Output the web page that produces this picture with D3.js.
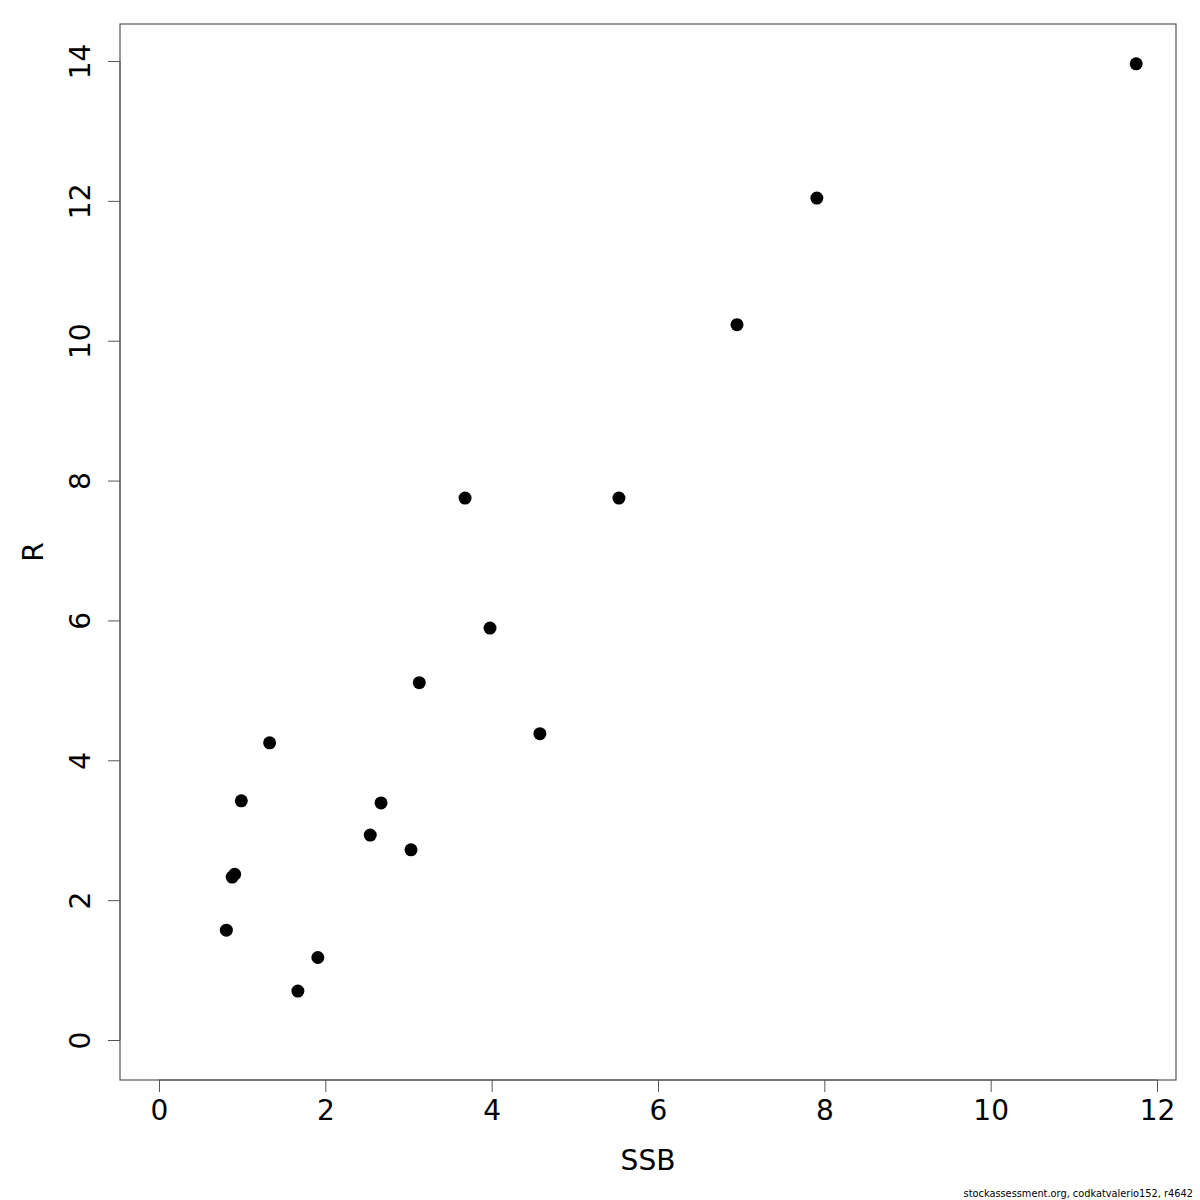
<!DOCTYPE html>
<html><head><meta charset="utf-8">
<script src="https://cdn.jsdelivr.net/npm/d3@7"></script>
<style>body{margin:0;background:#fff}svg{display:block}text{font-family:"DejaVu Sans",sans-serif}</style>
</head><body>
<script>
const ssb = [11.75, 7.91, 6.95, 5.53, 3.68, 3.98, 3.13, 4.58, 1.33, 0.99, 2.67, 2.54, 3.03, 0.91, 0.88, 0.81, 1.91, 1.67];
const rec = [13.96, 12.04, 10.23, 7.75, 7.75, 5.89, 5.11, 4.38, 4.25, 3.42, 3.39, 2.93, 2.72, 2.37, 2.33, 1.57, 1.18, 0.70];
const xTicks = [0, 2, 4, 6, 8, 10, 12];
const yTicks = [0, 2, 4, 6, 8, 10, 12, 14];
const xLabel = "SSB", yLabel = "R";
const footer = "stockassessment.org, codkatvalerio152, r4642";

const W = 1200, H = 1200;
const box = {l:120, r:1176, t:24, b:1080};
const svg = d3.select("body").append("svg").attr("width", W).attr("height", H);
const x = d3.scaleLinear().domain([0, 12]).range([159, 1157]);
const y = d3.scaleLinear().domain([0, 14]).range([1040, 61]);

svg.append("rect").attr("x", box.l).attr("y", box.t).attr("width", box.r - box.l).attr("height", box.b - box.t)
  .attr("fill", "none").attr("stroke", "#555").attr("stroke-width", 1.2);

const xa = svg.append("g").attr("transform", `translate(0,${box.b})`)
  .call(d3.axisBottom(x).tickValues(xTicks).tickSize(12).tickPadding(8).tickFormat(d3.format("d")));
xa.select(".domain").attr("d", `M${x(0)},0H${x(12)}`).attr("stroke", "#555");
xa.selectAll(".tick line").attr("stroke", "#555");
xa.selectAll("text").attr("font-size", 28).attr("fill", "#000").attr("font-family", "DejaVu Sans");

const ya = svg.append("g").attr("transform", `translate(${box.l},0)`)
  .call(d3.axisLeft(y).tickValues(yTicks).tickSize(12).tickFormat(d3.format("d")));
ya.select(".domain").attr("d", `M0,${y(0)}V${y(14)}`).attr("stroke", "#555");
ya.selectAll(".tick line").attr("stroke", "#555");
ya.selectAll("text").attr("font-size", 28).attr("fill", "#000").attr("font-family", "DejaVu Sans")
  .attr("x", null).attr("dy", null)
  .attr("transform", "translate(-30,0) rotate(-90)")
  .attr("text-anchor", "middle").attr("dominant-baseline", "auto");

svg.append("text").attr("x", (box.l + box.r) / 2).attr("y", 1170).attr("text-anchor", "middle")
  .attr("font-size", 28).text(xLabel);
svg.append("text").attr("transform", `translate(43,${(box.t + box.b) / 2}) rotate(-90)`).attr("text-anchor", "middle")
  .attr("font-size", 28).text(yLabel);

svg.append("g").selectAll("circle").data(ssb).join("circle")
  .attr("cx", (d, i) => x(d)).attr("cy", (d, i) => y(rec[i])).attr("r", 6.5).attr("fill", "#000");

svg.append("text").attr("x", 1193).attr("y", 1197).attr("text-anchor", "end").attr("font-size", 9.8)
  .text(footer);
</script>
</body></html>
